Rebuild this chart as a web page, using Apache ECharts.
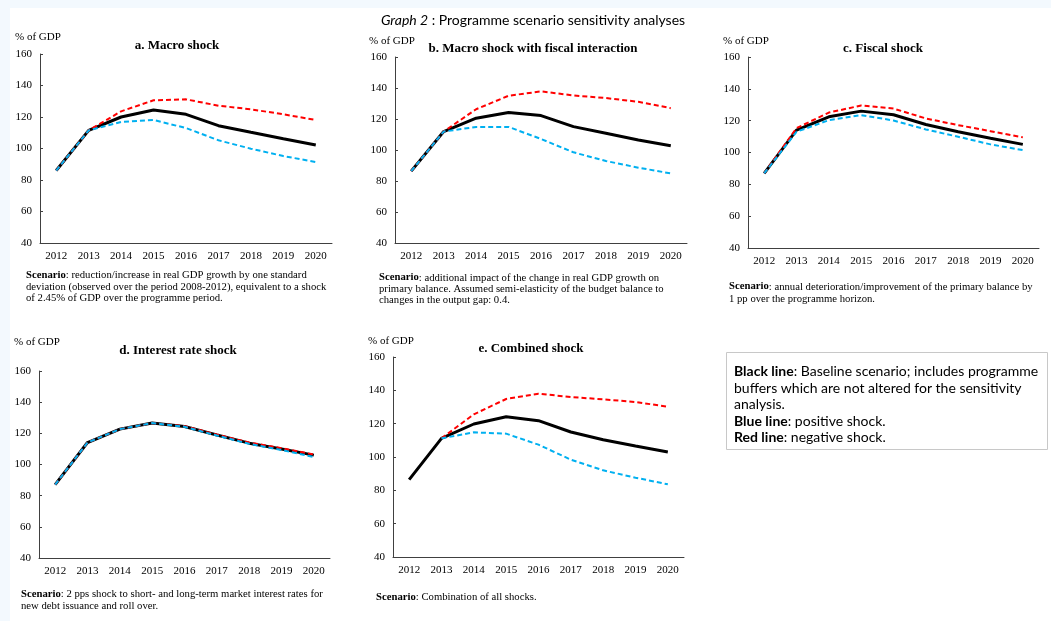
<!DOCTYPE html>
<html>
<head>
<meta charset="utf-8">
<script src="https://cdn.jsdelivr.net/npm/echarts@6/dist/echarts.min.js"></script>
<style>
html,body{margin:0;padding:0;background:#fff;}
#chart{width:1051px;height:621px;}
</style>
</head>
<body>
<div id="chart"></div>
<script>
// ---------- data ----------
var years = ['2012','2013','2014','2015','2016','2017','2018','2019','2020'];
var yTicks = [40, 60, 80, 100, 120, 140, 160];

// a. Macro shock
var macroBase = [86, 111.5, 120, 124.4, 121.7, 114.5, 110.3, 106.2, 102.2];
var macroNeg  = [86, 111.5, 123.6, 130.6, 131.2, 127.2, 124.9, 121.7, 118.1];
var macroPos  = [86, 111.5, 116.8, 118.1, 113.0, 105.2, 99.9, 95.2, 91.4];

// b. Macro shock with fiscal interaction
var fiscIntBase = [86.4, 111.9, 120.5, 124.2, 122.2, 115.1, 110.8, 106.5, 102.8];
var fiscIntNeg  = [86.4, 111.9, 126.3, 135.0, 137.8, 135.2, 133.5, 131.1, 127.0];
var fiscIntPos  = [86.4, 111.9, 114.9, 114.9, 107.1, 98.5, 92.9, 88.6, 84.9];

// c. Fiscal shock
var fiscalBase = [86.9, 114.1, 122.4, 126.0, 123.7, 117.6, 113.0, 109.0, 105.1];
var fiscalNeg  = [86.9, 115.3, 125.1, 129.5, 127.6, 121.4, 117.2, 113.4, 109.5];
var fiscalPos  = [86.9, 113.0, 120.3, 123.5, 120.1, 114.5, 109.9, 105.1, 101.5];

// d. Interest rate shock
var rateBase = [87.1, 114.1, 122.7, 126.6, 124.4, 118.9, 113.7, 109.9, 106.0];
var rateNeg  = [87.1, 114.1, 122.7, 126.6, 124.6, 119.2, 114.1, 110.5, 106.4];
var ratePos  = [87.1, 114.1, 122.7, 126.6, 124.2, 118.6, 113.3, 109.3, 104.8];

// e. Combined shock
var combBase = [86.4, 111.2, 119.8, 124.2, 121.8, 115.0, 110.4, 106.6, 103.0];
var combNeg  = [null, 111.2, 125.6, 134.8, 138.0, 136.0, 134.6, 133.0, 130.2];
var combPos  = [null, 111.2, 114.8, 114.0, 107.4, 98.4, 92.0, 87.6, 83.6];

var panelTitles = ['a. Macro shock', 'b. Macro shock with fiscal interaction', 'c. Fiscal shock', 'd. Interest rate shock', 'e. Combined shock'];
var scenarioTexts = [
  ['{b|Scenario}: reduction/increase in real GDP growth by one standard', 'deviation (observed over the period 2008-2012), equivalent to a shock', 'of 2.45% of GDP over the programme period.'],
  ['{b|Scenario}: additional impact of the change in real GDP growth on', 'primary balance. Assumed semi-elasticity of the budget balance to', 'changes in the output gap: 0.4.'],
  ['{b|Scenario}: annual deterioration/improvement of the primary balance by', '1 pp over the programme horizon.'],
  ['{b|Scenario}: 2 pps shock to short- and long-term market interest rates for', 'new debt issuance and roll over.'],
  ['{b|Scenario}: Combination of all shocks.']
];
var unitLabel = '% of GDP';
var mainTitleParts = ['Graph 2', ' : Programme scenario sensitivity analyses'];
var legendLines = [
  ['Black line', ': Baseline scenario; includes programme'],
  ['', 'buffers which are not altered for the sensitivity'],
  ['', 'analysis.'],
  ['Blue line', ': positive shock.'],
  ['Red line', ': negative shock.']
];

var panelData = [
  [macroBase, macroNeg, macroPos],
  [fiscIntBase, fiscIntNeg, fiscIntPos],
  [fiscalBase, fiscalNeg, fiscalPos],
  [rateBase, rateNeg, ratePos],
  [combBase, combNeg, combPos]
];

// ---------- layout ----------
var grids = [
  {left: 40,  top: 54,  width: 292, height: 189},
  {left: 395, top: 57,  width: 292, height: 186},
  {left: 748, top: 57,  width: 291, height: 191},
  {left: 39,  top: 371, width: 291, height: 187},
  {left: 393, top: 357, width: 291, height: 200}
];
var titlePos = [[177,46],[533,49],[883,49],[178,351],[531,349]];
var unitPos = [[15,37],[369,41],[723,41],[14,342],[368,341]];
var scenPos = [[26,275.5,11.2],[379,277.7,11.3],[729,286.7,12.3],[21,594,12],[376,597.3,12]];

var serif = '"Liberation Serif", "DejaVu Serif", serif';
var sans = 'Lato, "Noto Sans", sans-serif';
var axisColor = '#404040';
var scenSize = 10.7;
var legSize = 14;

var option = {
  backgroundColor: '#f3f9fe',
  animation: false,
  grid: [], xAxis: [], yAxis: [], series: [], graphic: []
};

option.graphic.push({type:'rect', shape:{x:10, y:8, width:1041, height:613}, style:{fill:'#ffffff'}, z:-10, silent:true});

grids.forEach(function(g, i){
  option.grid.push({left:g.left, top:g.top, width:g.width, height:g.height, containLabel:false});
  option.xAxis.push({
    type:'category', gridIndex:i, data:years, boundaryGap:true,
    axisLine:{lineStyle:{color:axisColor, width:1}},
    axisTick:{inside:true, length:3, lineStyle:{color:axisColor}},
    axisLabel:{color:'#000', fontFamily:serif, fontSize:11, margin:8, interval:0},
    splitLine:{show:false}
  });
  option.yAxis.push({
    type:'value', gridIndex:i, min:yTicks[0], max:yTicks[yTicks.length-1], interval:yTicks[1]-yTicks[0],
    axisLine:{show:true, lineStyle:{color:axisColor, width:1}},
    axisTick:{show:true, inside:true, length:3, lineStyle:{color:axisColor}},
    axisLabel:{color:'#000', fontFamily:serif, fontSize:11, margin:8},
    splitLine:{show:false}
  });
  var d = panelData[i];
  option.series.push({type:'line', xAxisIndex:i, yAxisIndex:i, data:d[0], symbol:'none', lineStyle:{color:'#000', width:3}, z:2});
  option.series.push({type:'line', xAxisIndex:i, yAxisIndex:i, data:d[1], symbol:'none', lineStyle:{color:'#ff0000', width:2, type:[5,3]}, z:3});
  option.series.push({type:'line', xAxisIndex:i, yAxisIndex:i, data:d[2], symbol:'none', lineStyle:{color:'#00b0f0', width:2, type:[5,3]}, z:4});

  option.graphic.push({type:'text', x:titlePos[i][0], y:titlePos[i][1], silent:true,
    style:{text:panelTitles[i], font:'bold 13px ' + serif, fill:'#000', align:'center', verticalAlign:'middle'}});
  option.graphic.push({type:'text', x:unitPos[i][0], y:unitPos[i][1], silent:true,
    style:{text:unitLabel, font:'11px ' + serif, fill:'#000', align:'left', verticalAlign:'middle'}});
  var sp = scenPos[i];
  scenarioTexts[i].forEach(function(line, k){
    option.graphic.push({type:'text', x:sp[0], y:sp[1] + k*sp[2], silent:true,
      style:{text:line, font:scenSize + 'px ' + serif, fill:'#000', align:'left', verticalAlign:'middle',
        rich:{b:{fontWeight:'bold', fontFamily:serif, fontSize:scenSize}}}});
  });
});

// main title
option.graphic.push({type:'text', x:533, y:20, silent:true,
  style:{text:'{i|' + mainTitleParts[0] + '}' + mainTitleParts[1], font:'14px ' + sans, fill:'#000', align:'center', verticalAlign:'middle',
    rich:{i:{fontStyle:'italic', fontFamily:sans, fontSize:14}}}});

// legend box
option.graphic.push({type:'rect', shape:{x:726.5, y:352.5, width:321, height:97}, style:{fill:'#fff', stroke:'#c8c8c8', lineWidth:1}, silent:true});
var legY = [371, 388, 404.5, 421, 437.5];
legendLines.forEach(function(l, k){
  var t = (l[0] ? '{b|' + l[0] + '}' : '') + l[1];
  option.graphic.push({type:'text', x:734, y:legY[k], silent:true,
    style:{text:t, font:legSize + 'px ' + sans, fill:'#000', align:'left', verticalAlign:'middle',
      rich:{b:{fontWeight:'bold', fontFamily:sans, fontSize:legSize}}}});
});

var chart = echarts.init(document.getElementById('chart'), null, {renderer:'canvas'});
chart.setOption(option);
</script>
</body>
</html>
